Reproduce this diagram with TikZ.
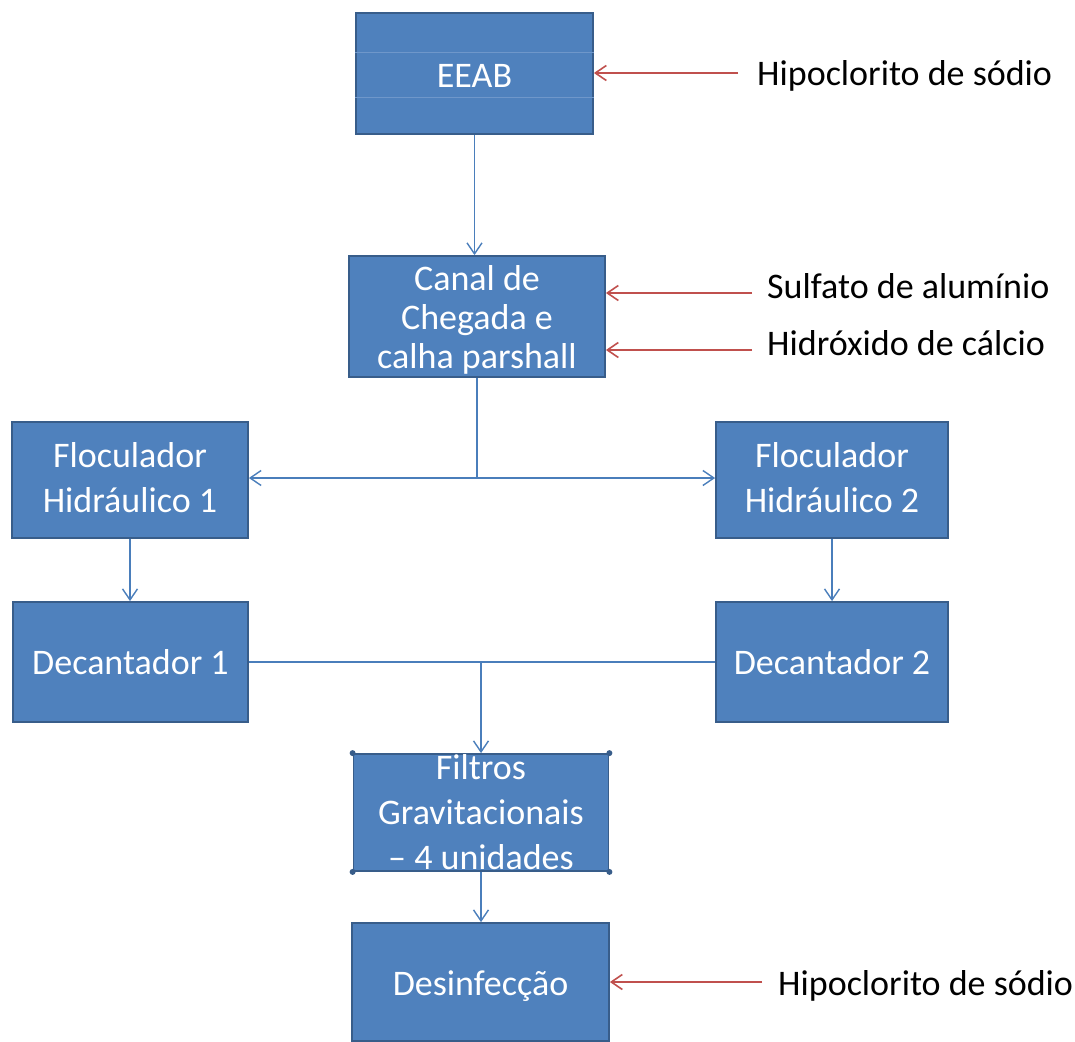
\documentclass[tikz,border=0pt]{standalone}
\usepackage{fontspec}
\setmainfont{Carlito}
\usetikzlibrary{arrows.meta}
\definecolor{boxfill}{HTML}{4F81BD}
\definecolor{boxline}{HTML}{385D8A}
\definecolor{flowc}{HTML}{4A7EBB}
\definecolor{redc}{HTML}{C0504D}
\definecolor{faint}{HTML}{6F97CA}
\begin{document}
\begin{tikzpicture}[x=1pt,y=-1pt,
  box/.style={draw=boxline, line width=1.8pt, fill=boxfill, inner sep=0pt, rectangle},
  boxtext/.style={text=white, font=\fontsize{36}{45}\selectfont, align=center, inner sep=0pt},
  flow/.style={draw=flowc, line width=1.4pt},
  flowarr/.style={flow, -{Straight Barb[length=11pt,width=15pt,line width=1.4pt]}},
  redarr/.style={draw=redc, line width=1.6pt, -{Straight Barb[length=11pt,width=15pt,line width=1.6pt]}},
  reagent/.style={font=\fontsize{36}{43}\selectfont, anchor=base west, inner sep=0pt, text=black}]

\useasboundingbox (0,0) rectangle (1075,1041);

% boxes
\node[box, minimum width=237pt, minimum height=121pt,
  label={[boxtext,yshift=-2pt]center:EEAB}] (eeab) at (474.5,73.5) {};
\node[box, minimum width=256pt, minimum height=121pt,
  label={[boxtext,font=\fontsize{36}{39}\selectfont,yshift=-3.5pt]center:{Canal de\\Chegada e\\calha parshall}}] (canal) at (477,316.5) {};
\node[box, minimum width=236pt, minimum height=116pt,
  label={[boxtext,yshift=2pt]center:{Floculador\\Hidráulico 1}}] (floc1) at (130,480) {};
\node[box, minimum width=232pt, minimum height=116pt,
  label={[boxtext,yshift=2pt]center:{Floculador\\Hidráulico 2}}] (floc2) at (832,480) {};
\node[box, minimum width=235pt, minimum height=120pt,
  label={[boxtext]center:{Decantador 1}}] (dec1) at (130.5,662) {};
\node[box, minimum width=232pt, minimum height=120pt,
  label={[boxtext]center:{Decantador 2}}] (dec2) at (832,662) {};
\node[box, minimum width=255pt, minimum height=117pt,
  label={[boxtext]center:{Filtros\\Gravitacionais\\– 4 unidades}}] (filt) at (481,812.5) {};
\node[box, minimum width=257pt, minimum height=118pt,
  label={[boxtext,yshift=-4pt]center:{Desinfecção}}] (des) at (480.5,982) {};

% faint lines inside EEAB
\draw[faint, line width=0.8pt] (eeab.west |- 0,52) -- (eeab.east |- 0,52);
\draw[faint, line width=0.8pt] (eeab.west |- 0,97) -- (eeab.east |- 0,97);

% corner handles on Filtros
\foreach \a in {north west,north east,south west,south east}
  \fill[boxline] (filt.\a) circle (3pt);

% reagent labels
\node[reagent] (hip1) at (757,85) {Hipoclorito de sódio};
\node[reagent] (sulf) at (767,298) {Sulfato de alumínio};
\node[reagent] (hidr) at (767,355) {Hidróxido de cálcio};
\node[reagent] (hip2) at (778,995) {Hipoclorito de sódio};

\coordinate (r1) at (738,73);
\coordinate (r2) at (752,293);
\coordinate (r3) at (752,350);
\coordinate (r4) at (762,982);
\draw[redarr] (r1) -- (r1 -| eeab.east);
\draw[redarr] (r2) -- (r2 -| canal.east);
\draw[redarr] (r3) -- (r3 -| canal.east);
\draw[redarr] (r4) -- (r4 -| des.east);

% flow connectors
\draw[flowarr] (eeab.south) -- (eeab.south |- canal.north);
\coordinate (j1) at (canal.south |- 0,478);
\draw[flow] (canal.south) -- (j1);
\draw[flowarr] (j1) -- (j1 -| floc1.east);
\draw[flowarr] (j1) -- (j1 -| floc2.west);
\draw[flowarr] (floc1.south) -- (floc1.south |- dec1.north);
\draw[flowarr] (floc2.south) -- (floc2.south |- dec2.north);
\draw[flow] (dec1.east) -- (dec2.west);
\coordinate (j2) at (filt.north |- dec1.east);
\draw[flowarr] (j2) -- (filt.north);
\draw[flowarr] (filt.south) -- (filt.south |- des.north);
\end{tikzpicture}
\end{document}
